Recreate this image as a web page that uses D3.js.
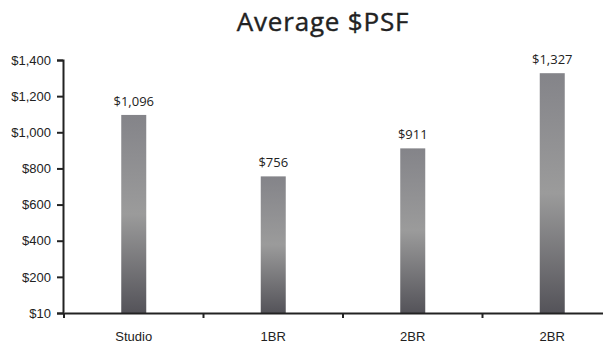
<!DOCTYPE html>
<html>
<head>
<meta charset="utf-8">
<script src="https://cdn.jsdelivr.net/npm/d3@7"></script>
<style>
  body { margin: 0; background: #fff; }
  svg { display: block; font-family: "Open Sans", "Noto Sans", sans-serif; }
</style>
</head>
<body>
<div id="chart"></div>
<script>
const width = 603;
const height = 343;
const margin = {top: 60, right: -19, bottom: 30, left: 64};

const categories = ["Studio", "1BR", "2BR", "2BR "];
const values = [1096, 756, 911, 1327];
const tickValues = [0, 200, 400, 600, 800, 1000, 1200, 1400];
const tickLabels = ["$10", "$200", "$400", "$600", "$800", "$1,000", "$1,200", "$1,400"];

const svg = d3.select("#chart").append("svg")
    .attr("width", width)
    .attr("height", height);

// bar gradient, darker at the bottom
const grad = svg.append("defs").append("linearGradient")
    .attr("id", "barGrad")
    .attr("x1", 0).attr("y1", 0).attr("x2", 0).attr("y2", 1);
grad.append("stop").attr("offset", "0%").attr("stop-color", "#848489");
grad.append("stop").attr("offset", "50%").attr("stop-color", "#9b9b9b");
grad.append("stop").attr("offset", "100%").attr("stop-color", "#545359");

// Title
svg.append("text")
    .attr("x", 323)
    .attr("y", 31)
    .attr("text-anchor", "middle")
    .style("font-size", "26px")
    .style("font-weight", "500")
    .style("letter-spacing", "0.8px")
    .style("stroke", "#222")
    .style("stroke-width", "0.4px")
    .attr("fill", "#222")
    .text("Average $PSF");

const x = d3.scaleBand()
    .domain(categories)
    .range([margin.left, width - margin.right])
    .padding(0);

const y = d3.scaleLinear()
    .domain([0, 1400])
    .range([height - margin.bottom, margin.top]);

// Bars
const barW = 25;
svg.append("g")
    .selectAll("rect")
    .data(values)
    .enter().append("rect")
    .attr("x", (d, i) => x(categories[i]) + x.bandwidth() / 2 - barW / 2)
    .attr("width", barW)
    .attr("y", (d) => y(d))
    .attr("height", (d) => y(0) - y(d))
    .attr("fill", "url(#barGrad)");

// Value labels
svg.append("g")
    .selectAll("text")
    .data(values)
    .enter().append("text")
    .attr("x", (d, i) => x(categories[i]) + x.bandwidth() / 2)
    .attr("y", (d) => y(d) - 9)
    .attr("text-anchor", "middle")
    .style("font-size", "13px")
    .attr("fill", "#222")
    .text((d) => "$" + d3.format(",")(d));

// y-axis
const yAxis = svg.append("g")
    .attr("transform", `translate(${margin.left - 1},0)`)
    .call(d3.axisLeft(y)
        .tickValues(tickValues)
        .tickFormat((d, i) => tickLabels[i])
        .tickSize(6)
        .tickSizeOuter(6)
        .tickPadding(6));
yAxis.select(".domain").attr("stroke", "#222").attr("stroke-width", 2);
yAxis.selectAll(".tick line").attr("stroke", "#222").attr("stroke-width", 2);
yAxis.selectAll("text").style("font-size", "13px").attr("fill", "#222");

// x-axis
const xAxis = svg.append("g")
    .attr("transform", `translate(0,${height - margin.bottom})`)
    .call(d3.axisBottom(x).tickSize(0).tickPadding(19));
xAxis.select(".domain").attr("stroke", "#222").attr("stroke-width", 2);
xAxis.selectAll("text").style("font-size", "13px").attr("fill", "#222");

// tick marks on the band edges
svg.append("g")
    .selectAll("line")
    .data(categories)
    .enter().append("line")
    .attr("x1", (d) => x(d))
    .attr("x2", (d) => x(d))
    .attr("y1", height - margin.bottom)
    .attr("y2", height - margin.bottom + 5)
    .attr("stroke", "#222")
    .attr("stroke-width", 2);
</script>
</body>
</html>
